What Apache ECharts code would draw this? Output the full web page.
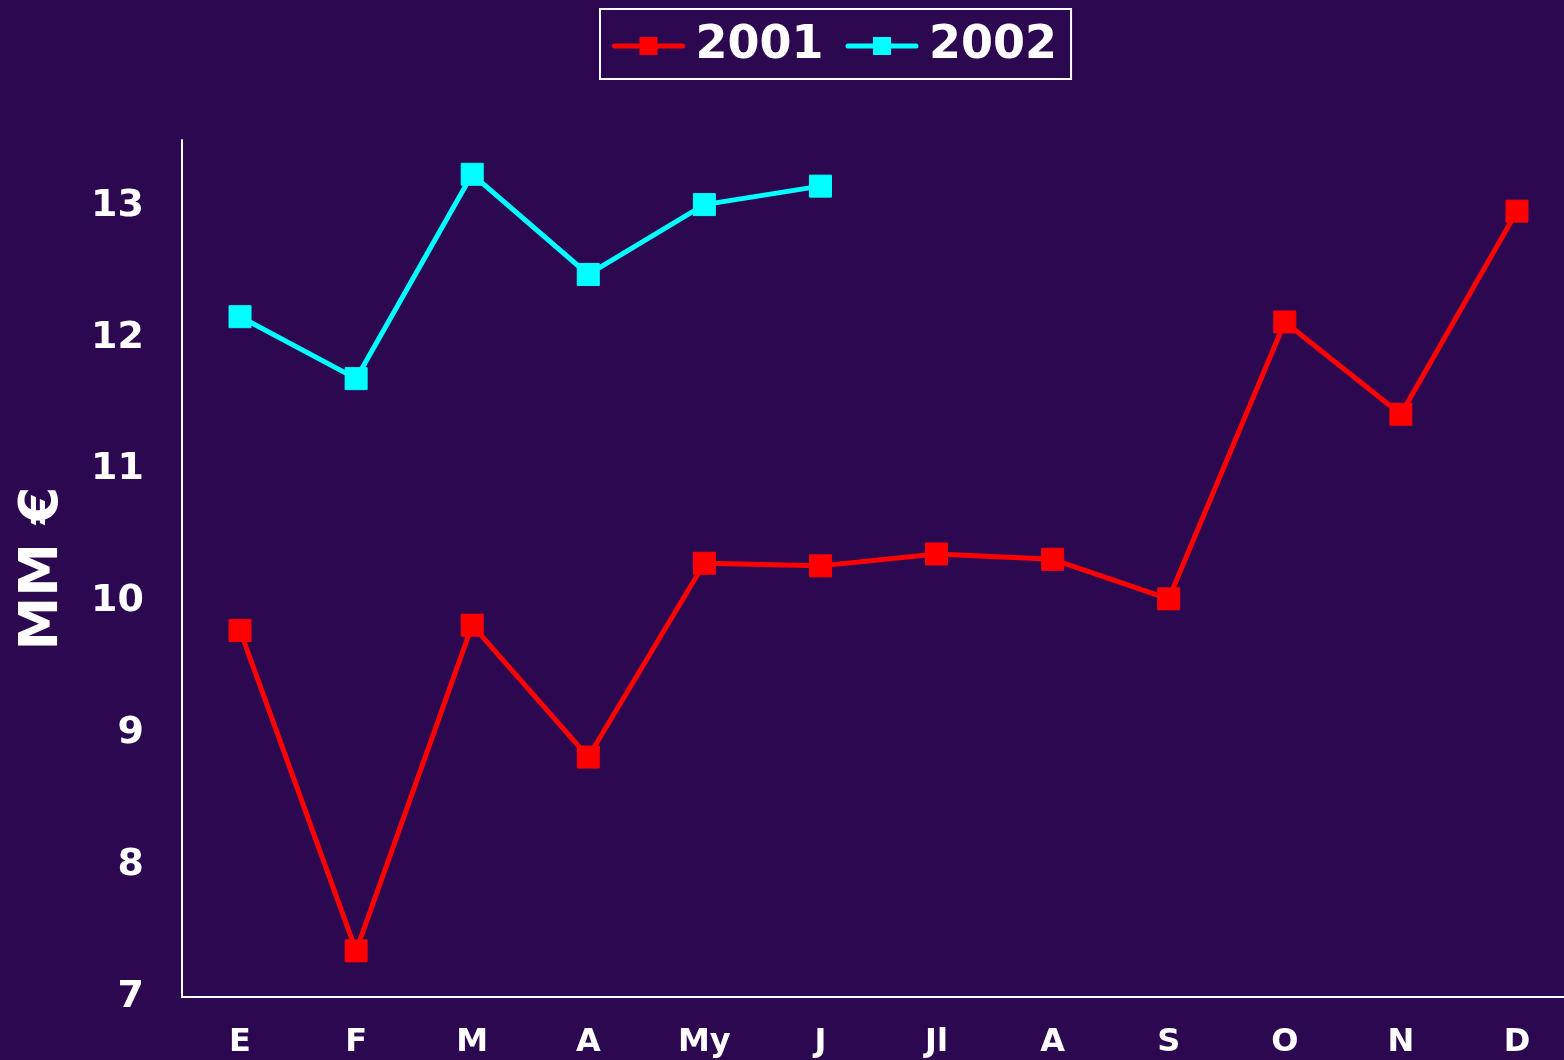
<!DOCTYPE html>
<html>
<head>
<meta charset="utf-8">
<script src="https://cdn.jsdelivr.net/npm/echarts@6/dist/echarts.min.js"></script>
<style>
  html, body { margin: 0; padding: 0; background: #2c0850; }
  #chart { width: 1564px; height: 1060px; }
</style>
</head>
<body>
<div id="chart"></div>
<script>
const months = ['E', 'F', 'M', 'A', 'My', 'J', 'Jl', 'A', 'S', 'O', 'N', 'D']
const sales2001 = [9.78, 7.35, 9.82, 8.82, 10.29, 10.27, 10.36, 10.32, 10.02, 12.12, 11.42, 12.96]
const sales2002 = [12.16, 11.69, 13.24, 12.48, 13.01, 13.15]

const font = 'DejaVu Sans'
const chart = echarts.init(document.getElementById('chart'))

function lineSeries(name, data, color) {
  return {
    name,
    type: 'line',
    data,
    symbol: 'rect',
    symbolSize: 22,
    lineStyle: { color, width: 5 },
    itemStyle: { color, borderColor: color, borderWidth: 1 },
    emphasis: { disabled: true }
  }
}

chart.setOption({
  backgroundColor: '#2c0850',
  animation: false,
  textStyle: { fontFamily: font },
  legend: {
    left: 600,
    top: 9,
    padding: [14, 14, 10, 12],
    itemGap: 22,
    itemWidth: 68,
    itemHeight: 20,
    borderColor: '#ffffff',
    borderWidth: 2,
    lineStyle: { width: 5, cap: 'round' },
    textStyle: {
      color: '#ffffff', fontSize: 46, fontWeight: 'bold', fontFamily: font,
      padding: [0, 0, 0, 8]
    }
  },
  grid: { left: 182, top: 140, width: 1393, bottom: 63, outerBoundsMode: 'none', containLabel: false },
  xAxis: {
    type: 'category',
    data: months,
    boundaryGap: true,
    axisLine: { lineStyle: { color: '#ffffff', width: 2 } },
    axisTick: { show: false },
    axisLabel: { color: '#ffffff', fontSize: 32, fontWeight: 'bold', margin: 30, fontFamily: font }
  },
  yAxis: {
    type: 'value',
    min: 7,
    max: 13.5,
    interval: 1,
    name: 'MM €',
    nameLocation: 'middle',
    nameGap: 112,
    nameRotate: 90,
    nameTextStyle: { color: '#ffffff', fontSize: 54, fontWeight: 'bold', fontFamily: font },
    splitLine: { show: false },
    axisTick: { show: false },
    axisLine: { show: true, lineStyle: { color: '#ffffff', width: 2 } },
    axisLabel: {
      color: '#ffffff', fontSize: 38, fontWeight: 'bold', margin: 38, fontFamily: font,
      formatter: v => Number.isInteger(v) ? String(v) : ''
    }
  },
  series: [
    lineSeries('2001', sales2001, '#ff0000'),
    lineSeries('2002', sales2002, '#00ffff')
  ]
})
</script>
</body>
</html>
